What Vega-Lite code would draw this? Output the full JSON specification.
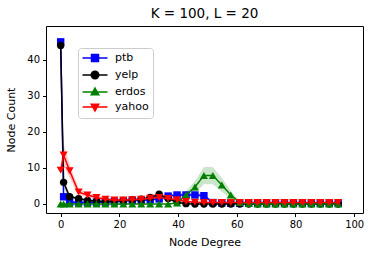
{
  "$schema": "https://vega.github.io/schema/vega-lite/v6.json",
  "autosize": {"type": "none"},
  "width": 317,
  "height": 187,
  "padding": {"left": 46, "top": 26, "right": 11, "bottom": 44},
  "title": {"text": "K = 100, L = 20", "font": "DejaVu Sans", "fontSize": 13.5, "fontWeight": "normal", "color": "black", "offset": 6},
  "config": {
    "view": {"stroke": "black", "strokeWidth": 1},
    "font": "DejaVu Sans",
    "axis": {"grid": false, "domain": false, "tickColor": "black", "tickSize": 3.5, "labelColor": "black", "labelFont": "DejaVu Sans", "labelFontSize": 10, "titleFont": "DejaVu Sans", "titleFontSize": 11, "titleFontWeight": "normal", "titleColor": "black", "labelPadding": 3}
  },
  "data": {"values": [
    {"s":"ptb","d":0,"v":45,"lo":43.8,"hi":46.2},
    {"s":"ptb","d":1,"v":2,"lo":1.2,"hi":2.8},
    {"s":"ptb","d":3.05,"v":0.5,"lo":0.2,"hi":0.8},
    {"s":"ptb","d":6.1,"v":0.5,"lo":0.2,"hi":0.8},
    {"s":"ptb","d":9.15,"v":0.4,"lo":0.1,"hi":0.7},
    {"s":"ptb","d":12.2,"v":0.5,"lo":0.2,"hi":0.8},
    {"s":"ptb","d":15.25,"v":0.5,"lo":0.2,"hi":0.8},
    {"s":"ptb","d":18.3,"v":0.6,"lo":0.3,"hi":0.9},
    {"s":"ptb","d":21.35,"v":0.8,"lo":0.5,"hi":1.1},
    {"s":"ptb","d":24.4,"v":1.0,"lo":0.7,"hi":1.3},
    {"s":"ptb","d":27.45,"v":1.0,"lo":0.7,"hi":1.3},
    {"s":"ptb","d":30.5,"v":1.2,"lo":0.9,"hi":1.5},
    {"s":"ptb","d":33.55,"v":1.4,"lo":1.0,"hi":1.8},
    {"s":"ptb","d":36.6,"v":2.2,"lo":1.6,"hi":2.8},
    {"s":"ptb","d":39.65,"v":2.5,"lo":1.9,"hi":3.1},
    {"s":"ptb","d":42.7,"v":2.5,"lo":1.9,"hi":3.1},
    {"s":"ptb","d":45.75,"v":2.5,"lo":1.9,"hi":3.1},
    {"s":"ptb","d":48.8,"v":2.3,"lo":1.7,"hi":2.9},
    {"s":"ptb","d":51.85,"v":0.4,"lo":0.1,"hi":0.7},
    {"s":"ptb","d":54.9,"v":0.3,"lo":0.1,"hi":0.5},
    {"s":"ptb","d":57.95,"v":0.2,"lo":0.05,"hi":0.35},
    {"s":"ptb","d":61,"v":0.2,"lo":0.05,"hi":0.35},
    {"s":"ptb","d":64.05,"v":0.2,"lo":0.05,"hi":0.35},
    {"s":"ptb","d":67.1,"v":0.2,"lo":0.05,"hi":0.35},
    {"s":"ptb","d":70.15,"v":0.2,"lo":0.05,"hi":0.35},
    {"s":"ptb","d":73.2,"v":0.2,"lo":0.05,"hi":0.35},
    {"s":"ptb","d":76.25,"v":0.2,"lo":0.05,"hi":0.35},
    {"s":"ptb","d":79.3,"v":0.2,"lo":0.05,"hi":0.35},
    {"s":"ptb","d":82.35,"v":0.2,"lo":0.05,"hi":0.35},
    {"s":"ptb","d":85.4,"v":0.2,"lo":0.05,"hi":0.35},
    {"s":"ptb","d":88.45,"v":0.2,"lo":0.05,"hi":0.35},
    {"s":"ptb","d":91.5,"v":0.2,"lo":0.05,"hi":0.35},
    {"s":"ptb","d":94.55,"v":0.2,"lo":0.05,"hi":0.35},

    {"s":"yelp","d":0,"v":44,"lo":43,"hi":45},
    {"s":"yelp","d":1,"v":6,"lo":4.5,"hi":7.5},
    {"s":"yelp","d":3.05,"v":2,"lo":1.5,"hi":2.5},
    {"s":"yelp","d":6.1,"v":1.5,"lo":1.1,"hi":1.9},
    {"s":"yelp","d":9.15,"v":1,"lo":0.7,"hi":1.3},
    {"s":"yelp","d":12.2,"v":0.8,"lo":0.5,"hi":1.1},
    {"s":"yelp","d":15.25,"v":0.7,"lo":0.4,"hi":1.0},
    {"s":"yelp","d":18.3,"v":0.8,"lo":0.5,"hi":1.1},
    {"s":"yelp","d":21.35,"v":1,"lo":0.7,"hi":1.3},
    {"s":"yelp","d":24.4,"v":1.2,"lo":0.9,"hi":1.5},
    {"s":"yelp","d":27.45,"v":1.3,"lo":1.0,"hi":1.6},
    {"s":"yelp","d":30.5,"v":1.8,"lo":1.3,"hi":2.3},
    {"s":"yelp","d":33.55,"v":2.7,"lo":2.0,"hi":3.4},
    {"s":"yelp","d":36.6,"v":1.5,"lo":1.0,"hi":2.0},
    {"s":"yelp","d":39.65,"v":0.5,"lo":0.2,"hi":0.8},
    {"s":"yelp","d":42.7,"v":0.1,"lo":0,"hi":0.3},
    {"s":"yelp","d":45.75,"v":0,"lo":0,"hi":0.1},
    {"s":"yelp","d":48.8,"v":0,"lo":0,"hi":0.1},
    {"s":"yelp","d":51.85,"v":0,"lo":0,"hi":0.1},
    {"s":"yelp","d":54.9,"v":0,"lo":0,"hi":0.1},
    {"s":"yelp","d":57.95,"v":0,"lo":0,"hi":0.1},
    {"s":"yelp","d":61,"v":0,"lo":0,"hi":0.1},
    {"s":"yelp","d":64.05,"v":0,"lo":0,"hi":0.1},
    {"s":"yelp","d":67.1,"v":0,"lo":0,"hi":0.1},
    {"s":"yelp","d":70.15,"v":0,"lo":0,"hi":0.1},
    {"s":"yelp","d":73.2,"v":0,"lo":0,"hi":0.1},
    {"s":"yelp","d":76.25,"v":0,"lo":0,"hi":0.1},
    {"s":"yelp","d":79.3,"v":0,"lo":0,"hi":0.1},
    {"s":"yelp","d":82.35,"v":0,"lo":0,"hi":0.1},
    {"s":"yelp","d":85.4,"v":0,"lo":0,"hi":0.1},
    {"s":"yelp","d":88.45,"v":0,"lo":0,"hi":0.1},
    {"s":"yelp","d":91.5,"v":0,"lo":0,"hi":0.1},
    {"s":"yelp","d":94.55,"v":0,"lo":0,"hi":0.1},

    {"s":"erdos","d":0,"v":0,"lo":0,"hi":0},
    {"s":"erdos","d":1,"v":0,"lo":0,"hi":0},
    {"s":"erdos","d":3.05,"v":0,"lo":0,"hi":0},
    {"s":"erdos","d":6.1,"v":0,"lo":0,"hi":0},
    {"s":"erdos","d":9.15,"v":0,"lo":0,"hi":0},
    {"s":"erdos","d":12.2,"v":0,"lo":0,"hi":0},
    {"s":"erdos","d":15.25,"v":0,"lo":0,"hi":0},
    {"s":"erdos","d":18.3,"v":0,"lo":0,"hi":0},
    {"s":"erdos","d":21.35,"v":0,"lo":0,"hi":0},
    {"s":"erdos","d":24.4,"v":0,"lo":0,"hi":0},
    {"s":"erdos","d":27.45,"v":0,"lo":0,"hi":0},
    {"s":"erdos","d":30.5,"v":0,"lo":0,"hi":0},
    {"s":"erdos","d":33.55,"v":0,"lo":0,"hi":0},
    {"s":"erdos","d":36.6,"v":0,"lo":0,"hi":0},
    {"s":"erdos","d":39.65,"v":0.3,"lo":0.1,"hi":0.6},
    {"s":"erdos","d":42.7,"v":2.5,"lo":1.4,"hi":3.6},
    {"s":"erdos","d":45.75,"v":4.7,"lo":3.0,"hi":6.4},
    {"s":"erdos","d":48.8,"v":7.9,"lo":5.5,"hi":10.3},
    {"s":"erdos","d":51.85,"v":7.9,"lo":5.5,"hi":10.3},
    {"s":"erdos","d":54.9,"v":5.3,"lo":3.4,"hi":7.2},
    {"s":"erdos","d":57.95,"v":2.5,"lo":1.3,"hi":3.7},
    {"s":"erdos","d":61,"v":0.4,"lo":0.1,"hi":0.8},
    {"s":"erdos","d":64.05,"v":0.1,"lo":0,"hi":0.3},
    {"s":"erdos","d":67.1,"v":0,"lo":0,"hi":0},
    {"s":"erdos","d":70.15,"v":0,"lo":0,"hi":0},
    {"s":"erdos","d":73.2,"v":0,"lo":0,"hi":0},
    {"s":"erdos","d":76.25,"v":0,"lo":0,"hi":0},
    {"s":"erdos","d":79.3,"v":0,"lo":0,"hi":0},
    {"s":"erdos","d":82.35,"v":0,"lo":0,"hi":0},
    {"s":"erdos","d":85.4,"v":0,"lo":0,"hi":0},
    {"s":"erdos","d":88.45,"v":0,"lo":0,"hi":0},
    {"s":"erdos","d":91.5,"v":0,"lo":0,"hi":0},
    {"s":"erdos","d":94.55,"v":0,"lo":0,"hi":0},

    {"s":"yahoo","d":0,"v":9.4,"lo":8.0,"hi":10.8},
    {"s":"yahoo","d":1,"v":13.6,"lo":10.6,"hi":16.6},
    {"s":"yahoo","d":3.05,"v":9.2,"lo":7.2,"hi":11.2},
    {"s":"yahoo","d":6.1,"v":3.3,"lo":2.4,"hi":4.2},
    {"s":"yahoo","d":9.15,"v":2.5,"lo":1.9,"hi":3.1},
    {"s":"yahoo","d":12.2,"v":1.8,"lo":1.3,"hi":2.3},
    {"s":"yahoo","d":15.25,"v":1.3,"lo":0.9,"hi":1.7},
    {"s":"yahoo","d":18.3,"v":1.1,"lo":0.7,"hi":1.5},
    {"s":"yahoo","d":21.35,"v":1.1,"lo":0.7,"hi":1.5},
    {"s":"yahoo","d":24.4,"v":1.2,"lo":0.8,"hi":1.6},
    {"s":"yahoo","d":27.45,"v":1.3,"lo":0.9,"hi":1.7},
    {"s":"yahoo","d":30.5,"v":1.6,"lo":1.2,"hi":2.0},
    {"s":"yahoo","d":33.55,"v":1.8,"lo":1.3,"hi":2.3},
    {"s":"yahoo","d":36.6,"v":1.5,"lo":1.1,"hi":1.9},
    {"s":"yahoo","d":39.65,"v":1.2,"lo":0.8,"hi":1.6},
    {"s":"yahoo","d":42.7,"v":0.7,"lo":0.4,"hi":1.0},
    {"s":"yahoo","d":45.75,"v":0.5,"lo":0.2,"hi":0.8},
    {"s":"yahoo","d":48.8,"v":0.4,"lo":0.2,"hi":0.6},
    {"s":"yahoo","d":51.85,"v":0.4,"lo":0.2,"hi":0.6},
    {"s":"yahoo","d":54.9,"v":0.4,"lo":0.2,"hi":0.6},
    {"s":"yahoo","d":57.95,"v":0.4,"lo":0.2,"hi":0.6},
    {"s":"yahoo","d":61,"v":0.4,"lo":0.2,"hi":0.6},
    {"s":"yahoo","d":64.05,"v":0.4,"lo":0.2,"hi":0.6},
    {"s":"yahoo","d":67.1,"v":0.4,"lo":0.2,"hi":0.6},
    {"s":"yahoo","d":70.15,"v":0.4,"lo":0.2,"hi":0.6},
    {"s":"yahoo","d":73.2,"v":0.4,"lo":0.2,"hi":0.6},
    {"s":"yahoo","d":76.25,"v":0.4,"lo":0.2,"hi":0.6},
    {"s":"yahoo","d":79.3,"v":0.4,"lo":0.2,"hi":0.6},
    {"s":"yahoo","d":82.35,"v":0.4,"lo":0.2,"hi":0.6},
    {"s":"yahoo","d":85.4,"v":0.4,"lo":0.2,"hi":0.6},
    {"s":"yahoo","d":88.45,"v":0.4,"lo":0.2,"hi":0.6},
    {"s":"yahoo","d":91.5,"v":0.4,"lo":0.2,"hi":0.6},
    {"s":"yahoo","d":94.55,"v":0.4,"lo":0.2,"hi":0.6}
  ]},
  "encoding": {
    "x": {"field": "d", "type": "quantitative", "scale": {"domain": [-5, 103], "nice": false, "zero": false}, "axis": {"values": [0, 20, 40, 60, 80, 100], "title": "Node Degree", "titlePadding": 7}},
    "color": {"field": "s", "type": "nominal", "scale": {"domain": ["ptb", "yelp", "erdos", "yahoo"], "range": ["#0000ff", "#000000", "#008000", "#ff0000"]},
      "legend": {"title": null, "orient": "none", "legendX": 32, "legendY": 22, "padding": 4, "fillColor": "white", "strokeColor": "#cccccc", "cornerRadius": 3, "symbolSize": 100, "symbolOffset": 7, "symbolStrokeWidth": 1.5, "symbolOpacity": 1, "labelFontSize": 11, "labelFont": "DejaVu Sans", "labelColor": "black", "labelOffset": 14, "rowPadding": 3,
        "encode": {"symbols": {"update": {
          "shape": {"signal": "datum.value === 'ptb' ? 'M-2.5,0H2.5M-0.7,-0.7H0.7V0.7H-0.7Z' : datum.value === 'yelp' ? 'M-2.5,0H2.5M-0.75,0A0.75,0.75,0,1,0,0.75,0A0.75,0.75,0,1,0,-0.75,0Z' : datum.value === 'erdos' ? 'M-2.5,0H2.5M0,-0.8L0.75,0.55H-0.75Z' : 'M-2.5,0H2.5M0,0.8L0.75,-0.55H-0.75Z'"},
          "stroke": {"signal": "scale('color', datum.value)"},
          "fill": {"signal": "scale('color', datum.value)"},
          "strokeWidth": {"value": 1.5},
          "opacity": {"value": 1}
        }}}
      }}
  },
  "layer": [
    {
      "mark": {"type": "area", "opacity": 0.2, "interpolate": "linear"},
      "encoding": {
        "y": {"field": "lo", "type": "quantitative", "scale": {"domain": [-2.5, 49.4], "nice": false, "zero": false}, "axis": {"values": [0, 10, 20, 30, 40], "title": "Node Count", "titlePadding": 10}},
        "y2": {"field": "hi"}
      }
    },
    {"transform": [{"filter": "datum.s === 'ptb'"}], "mark": {"type": "line", "strokeWidth": 1.5}, "encoding": {"y": {"field": "v", "type": "quantitative"}}},
    {"transform": [{"filter": "datum.s === 'ptb'"}], "mark": {"type": "point", "filled": true, "opacity": 1, "size": 55, "shape": "square"}, "encoding": {"y": {"field": "v", "type": "quantitative"}}},
    {"transform": [{"filter": "datum.s === 'yelp'"}], "mark": {"type": "line", "strokeWidth": 1.5}, "encoding": {"y": {"field": "v", "type": "quantitative"}}},
    {"transform": [{"filter": "datum.s === 'yelp'"}], "mark": {"type": "point", "filled": true, "opacity": 1, "size": 55, "shape": "circle"}, "encoding": {"y": {"field": "v", "type": "quantitative"}}},
    {"transform": [{"filter": "datum.s === 'erdos'"}], "mark": {"type": "line", "strokeWidth": 1.5}, "encoding": {"y": {"field": "v", "type": "quantitative"}}},
    {"transform": [{"filter": "datum.s === 'erdos'"}], "mark": {"type": "point", "filled": true, "opacity": 1, "size": 65, "shape": "triangle-up"}, "encoding": {"y": {"field": "v", "type": "quantitative"}}},
    {"transform": [{"filter": "datum.s === 'yahoo'"}], "mark": {"type": "line", "strokeWidth": 1.5}, "encoding": {"y": {"field": "v", "type": "quantitative"}}},
    {"transform": [{"filter": "datum.s === 'yahoo'"}], "mark": {"type": "point", "filled": true, "opacity": 1, "size": 65, "shape": "triangle-down"}, "encoding": {"y": {"field": "v", "type": "quantitative"}}}
  ]
}
